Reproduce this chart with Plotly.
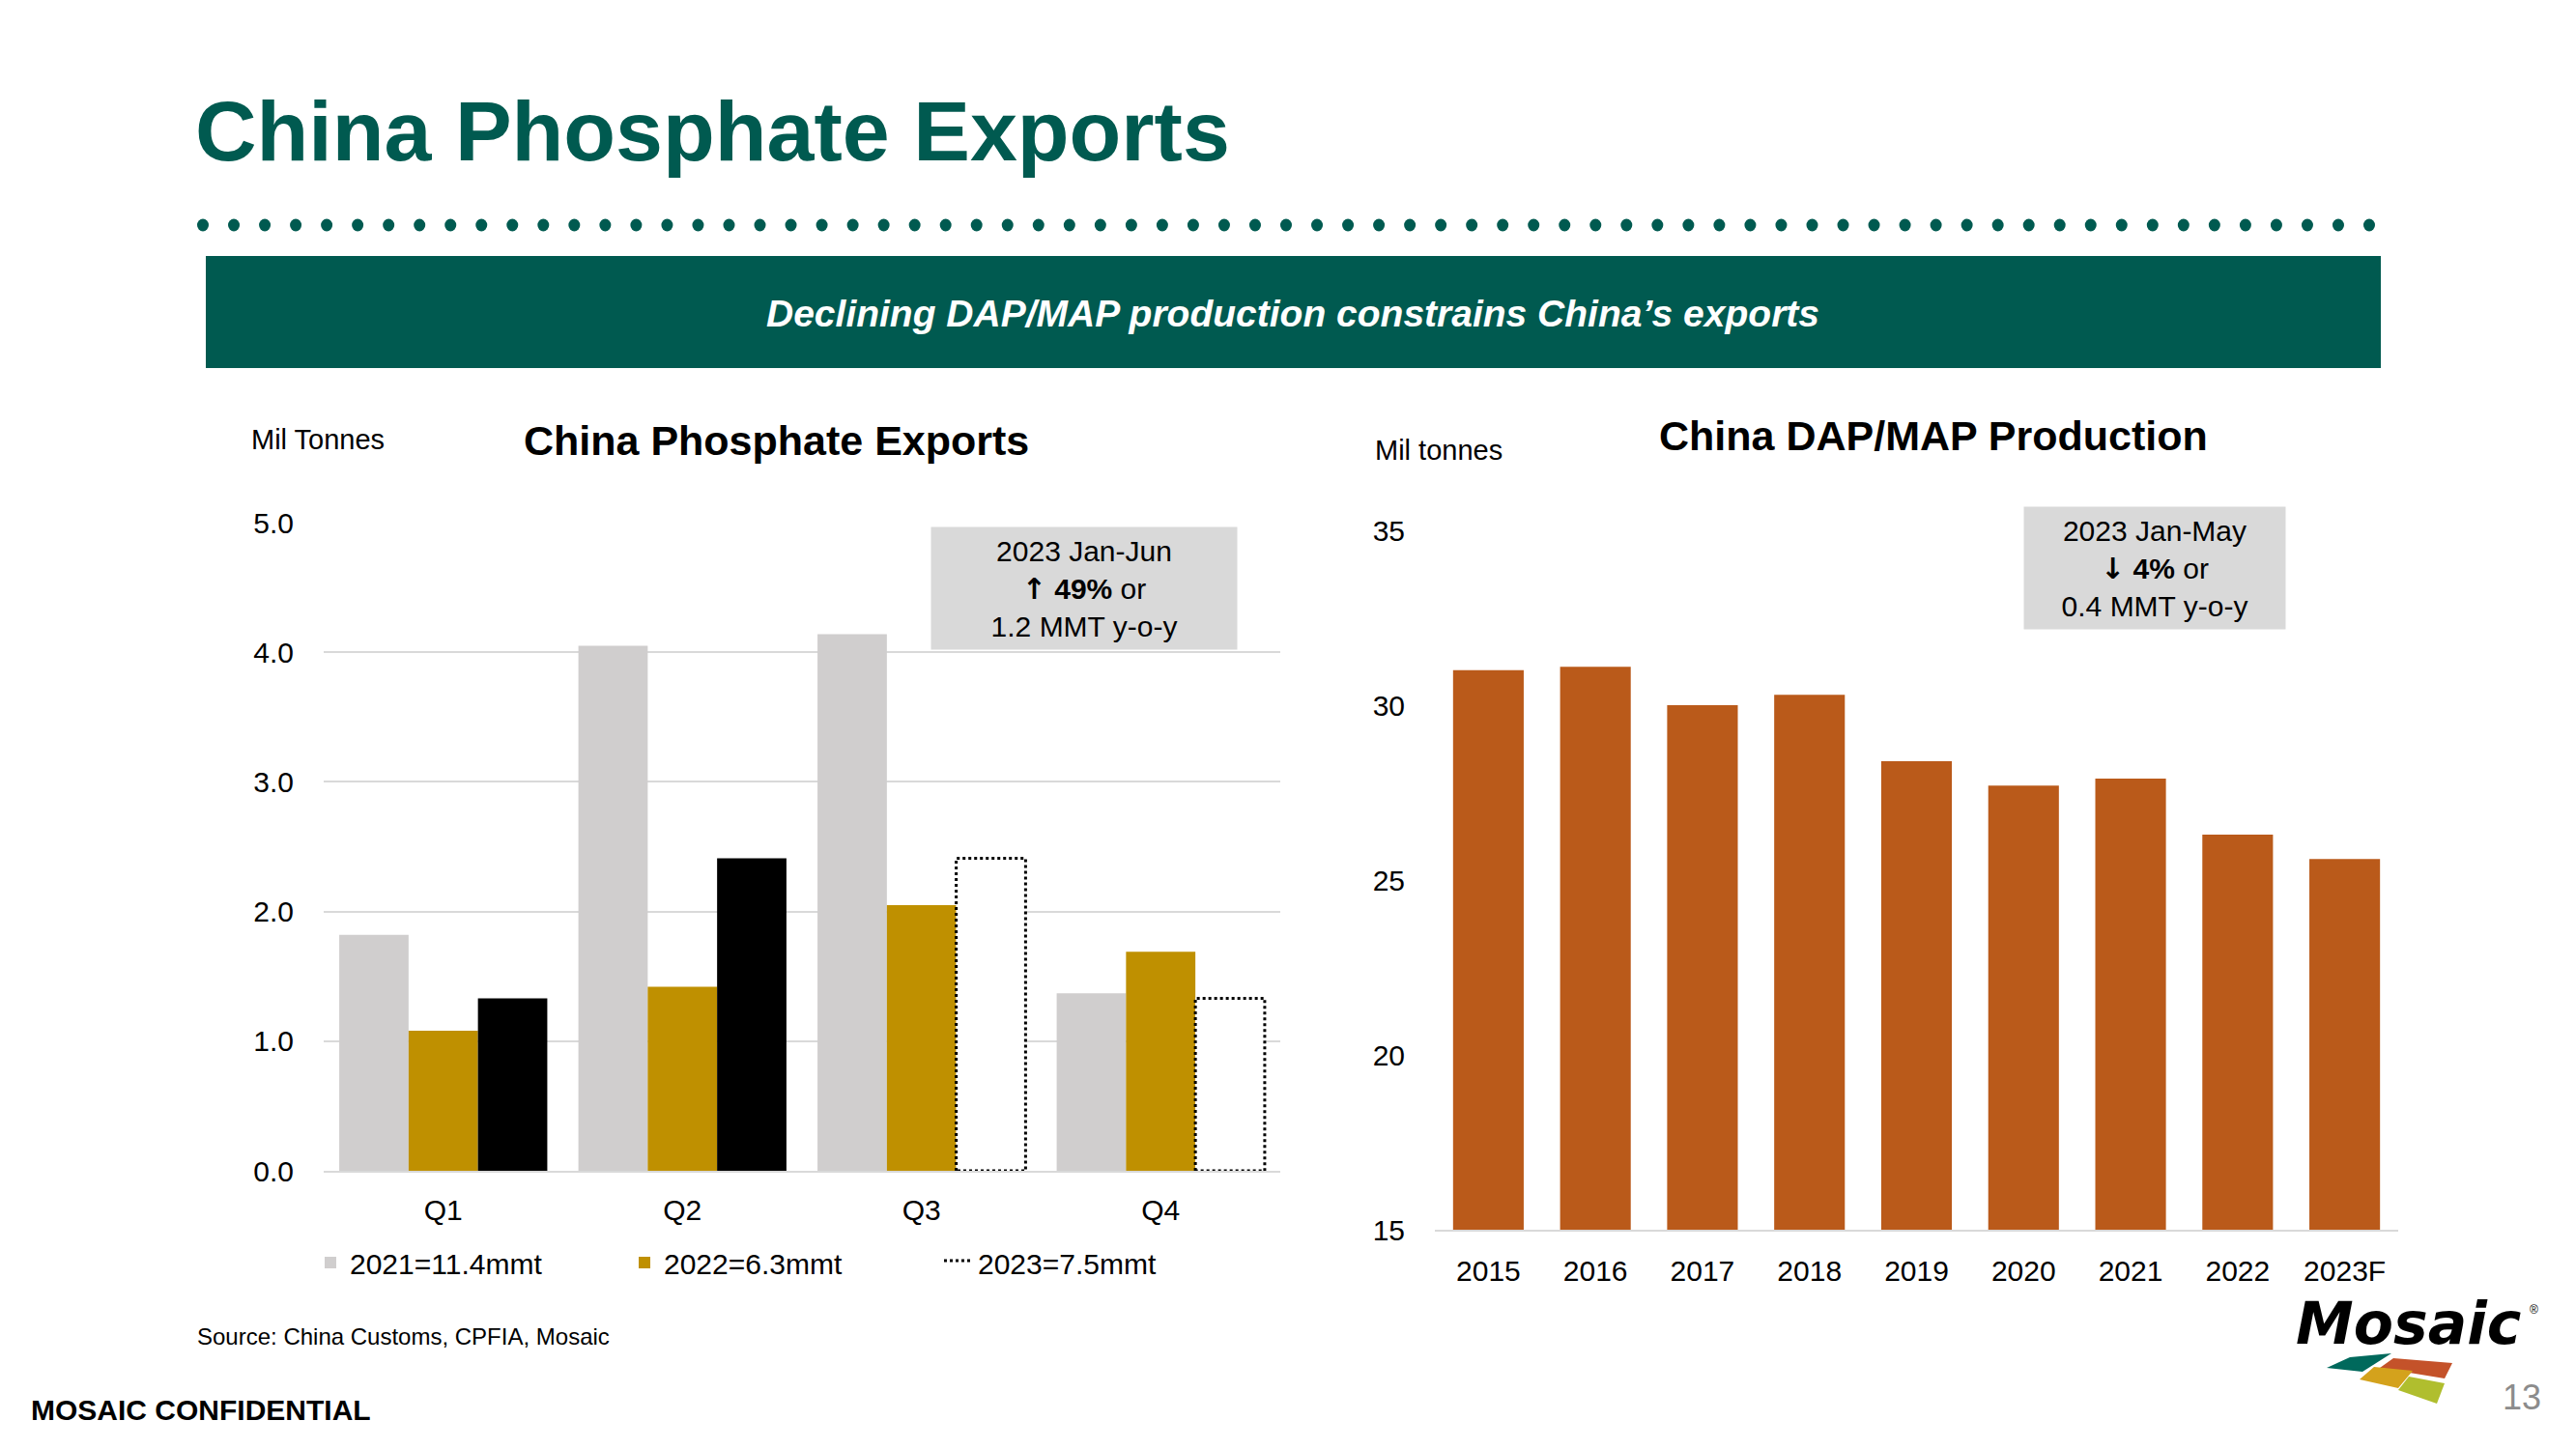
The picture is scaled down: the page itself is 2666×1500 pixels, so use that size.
import plotly.graph_objects as go

# ---------------- data ----------------
quarters = ["Q1", "Q2", "Q3", "Q4"]
exports_2021 = [1.82, 4.05, 4.14, 1.37]
exports_2022 = [1.08, 1.42, 2.05, 1.69]
exports_2023_actual = [1.33, 2.41]        # Q1-Q2 (solid black)
exports_2023_forecast = [2.41, 1.33]      # Q3-Q4 (dotted outline)
series_names = ["2021=11.4mmt", "2022=6.3mmt", "2023=7.5mmt"]

years = ["2015", "2016", "2017", "2018", "2019", "2020", "2021", "2022", "2023F"]
production = [31.0, 31.1, 30.0, 30.3, 28.4, 27.7, 27.9, 26.3, 25.6]

left_yticks = [0, 1, 2, 3, 4, 5]
right_yticks = [15, 20, 25, 30, 35]

# ---------------- styling ----------------
FONT = "Liberation Sans, Arial, sans-serif"
TEAL = "#005A50"
GRAY_BAR = "#D0CECE"
GOLD = "#BF9000"
ORANGE = "#BA5A1A"
GRID = "#D9D9D9"

W, H, OFF = 2650, 1484, 8


def X(px):
    return (px - OFF) / W


def Y(py):
    return 1 - (py - OFF) / H


BARGAP = 0.13
q_pos = list(range(len(quarters)))
bw = (1 - BARGAP) / 3

fig = go.Figure()
fig.add_trace(go.Bar(x=q_pos, y=exports_2021, name=series_names[0],
                     marker=dict(color=GRAY_BAR, line=dict(width=0)), xaxis="x", yaxis="y"))
fig.add_trace(go.Bar(x=q_pos, y=exports_2022, name=series_names[1],
                     marker=dict(color=GOLD, line=dict(width=0)), xaxis="x", yaxis="y"))
fig.add_trace(go.Bar(x=q_pos[:2], y=exports_2023_actual, name=series_names[2],
                     marker=dict(color="#000000", line=dict(width=0)), showlegend=False,
                     xaxis="x", yaxis="y"))

# dotted outline for forecast bars (positions derived from group layout)
ox, oy = [], []
for i, v in zip(q_pos[2:], exports_2023_forecast):
    x0 = i - (1 - BARGAP) / 2 + 2 * bw
    x1 = x0 + bw
    ox += [x0, x0, x1, x1, x0, None]
    oy += [0, v, v, 0, 0, None]
fig.add_trace(go.Scatter(x=ox, y=oy, mode="lines", name=series_names[2],
                         line=dict(color="#000000", width=3, dash="dot"),
                         fill="toself", fillcolor="white", xaxis="x", yaxis="y"))

fig.add_trace(go.Bar(x=years, y=production, width=0.66, showlegend=False,
                     marker=dict(color=ORANGE, line=dict(width=0)), xaxis="x2", yaxis="y2"))

tickfont = dict(family=FONT, size=30, color="#000000")

fig.update_layout(
    width=W, height=H, margin=dict(l=0, r=0, t=0, b=0, pad=0, autoexpand=False),
    paper_bgcolor="white", plot_bgcolor="white",
    barmode="group", bargap=BARGAP, bargroupgap=0,
    hovermode=False,
    xaxis=dict(domain=[X(335), X(1325)], anchor="y", type="linear", range=[-0.5, 3.5],
               tickvals=q_pos, ticktext=quarters, showgrid=False, zeroline=False,
               showline=True, linecolor=GRID, linewidth=2, ticks="", tickfont=tickfont,
               ticklabelstandoff=13, automargin=False),
    yaxis=dict(domain=[Y(1212), Y(541)], anchor="x", range=[0, 5], tickvals=left_yticks,
               tickformat=".1f", showgrid=True, gridcolor=GRID, gridwidth=2, zeroline=False,
               showline=False, ticks="", tickfont=tickfont, ticklabelstandoff=30,
               automargin=False),
    xaxis2=dict(domain=[X(1485), X(2482)], anchor="y2", type="category",
                showgrid=False, zeroline=False, showline=True, linecolor=GRID, linewidth=2,
                ticks="", tickfont=tickfont, ticklabelstandoff=15, automargin=False),
    yaxis2=dict(domain=[Y(1273), Y(549)], anchor="x2", range=[15, 35], tickvals=right_yticks,
                showgrid=False, zeroline=False, showline=False, ticks="", tickfont=tickfont,
                ticklabelstandoff=30, automargin=False),
    legend=dict(orientation="h", x=X(322), y=Y(1281), xanchor="left", yanchor="top",
                font=dict(family=FONT, size=30, color="#000000"),
                entrywidth=280, entrywidthmode="pixels", bgcolor="rgba(0,0,0,0)",
                itemwidth=30, tracegroupgap=0),
)

shapes = []
# teal banner
shapes.append(dict(type="rect", xref="paper", yref="paper", x0=X(213), x1=X(2464),
                   y0=Y(381), y1=Y(265), fillcolor=TEAL, line=dict(width=0), layer="below"))
# dotted separator
n_dots = 71
for k in range(n_dots):
    cx = 210 + k * (2452 - 210) / (n_dots - 1)
    shapes.append(dict(type="circle", xref="paper", yref="paper",
                       x0=X(cx - 6), x1=X(cx + 6), y0=Y(233 + 6.5), y1=Y(233 - 6.5),
                       fillcolor=TEAL, line=dict(width=0)))


def path(points):
    return "M " + " L ".join(f"{X(a):.5f},{Y(b):.5f}" for a, b in points) + " Z"


logo_tiles = [
    ([(2408, 1416), (2432, 1405), (2475, 1401), (2445, 1420)], "#00695C"),
    ([(2477, 1406), (2538, 1411), (2530, 1427), (2463, 1416)], "#C4522A"),
    ([(2457, 1415), (2497, 1419), (2482, 1437), (2442, 1428)], "#D4A21C"),
    ([(2493, 1425), (2530, 1432), (2522, 1453), (2482, 1439)], "#B0BE2E"),
]
for pts, col in logo_tiles:
    shapes.append(dict(type="path", xref="paper", yref="paper", path=path(pts),
                       fillcolor=col, line=dict(width=0)))

annotations = []


def ann(text, px, py, size, color="#000000", xanchor="center", family=FONT, **kw):
    annotations.append(dict(text=text, x=X(px), y=Y(py), xref="paper", yref="paper",
                            xanchor=xanchor, yanchor="middle", showarrow=False,
                            font=dict(family=family, size=size, color=color), **kw))


ARROW = "font-family:DejaVu Sans;font-weight:bold"
ann("<b>China Phosphate Exports</b>", 200, 136, 88, color=TEAL, xanchor="left")
ann("<b><i>Declining DAP/MAP production constrains China’s exports</i></b>", 1338, 325, 39,
    color="white")
ann("Mil Tonnes", 258, 455, 29, xanchor="left")
ann("<b>China Phosphate Exports</b>", 803, 456, 43)
ann("Mil tonnes", 1421, 466, 29, xanchor="left")
ann("<b>China DAP/MAP Production</b>", 2001, 451, 43)
ann(f"2023 Jan-Jun<br><span style='{ARROW}'>↑</span><b> 49%</b> or<br>1.2 MMT y-o-y", 1122, 609, 30,
    bgcolor=GRID, width=316, height=126, borderpad=0, align="center", valign="middle")
ann(f"2023 Jan-May<br><span style='{ARROW}'>↓</span><b> 4%</b> or<br>0.4 MMT y-o-y", 2230, 588, 30,
    bgcolor=GRID, width=270, height=126, borderpad=0, align="center", valign="middle")
ann("Source: China Customs, CPFIA, Mosaic", 202, 1383, 24, xanchor="left")
ann("<b>MOSAIC CONFIDENTIAL</b>", 30, 1459, 30, xanchor="left")
ann("13", 2610, 1446, 36, color="#8C8C8C")
ann("<b><i>Mosaic</i></b>", 2492, 1370, 60, family="DejaVu Sans, Liberation Sans, sans-serif")
ann("®", 2622, 1356, 12)

fig.update_layout(shapes=shapes, annotations=annotations)
fig.write_html("out.html")
